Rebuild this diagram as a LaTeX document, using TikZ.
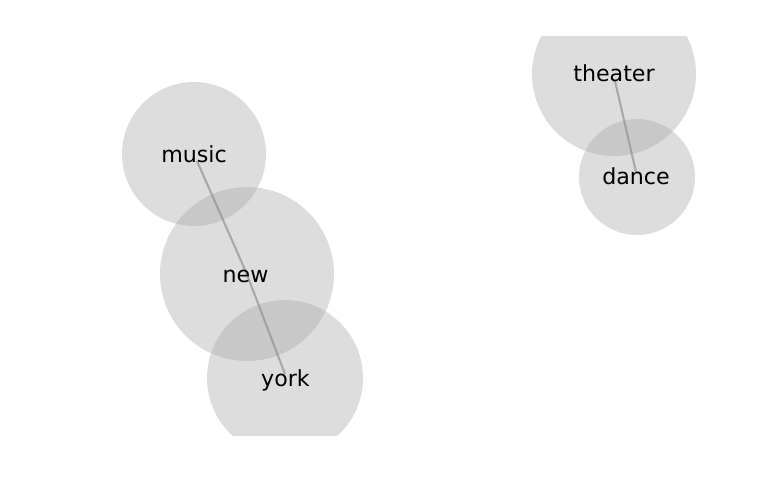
\documentclass[tikz,border=0pt]{standalone}
\usepackage{fontspec}
\setmainfont{DejaVu Sans}

\begin{document}
\begin{tikzpicture}[x=0.01in, y=-0.01in,
    bubble/.style={fill=black!35, fill opacity=0.38},
    word/.style={font=\fontsize{16}{19}\selectfont, inner sep=0pt, anchor=base},
    link/.style={draw=black!45, line width=1.5pt, opacity=0.65}]
    \useasboundingbox (0,0) rectangle (768,500);
    \begin{scope}
        \clip (0,36) rectangle (768,435);
        % Bubbles
        \foreach \x/\y/\r in {194/154/72, 247/274/87, 285/378/78, 614/74/82, 637/177/58} {
            \fill[bubble] (\x,\y) circle[radius=\r];
        }
        % Link ends
        \coordinate (music-pt) at (197,161);
        \coordinate (new-pt) at (246,272);
        \coordinate (york-pt) at (285,374);
        \coordinate (theater-pt) at (615,81);
        \coordinate (dance-pt) at (636,172);
        % Links
        \draw[link] (music-pt) -- (new-pt);
        \draw[link] (new-pt) -- (york-pt);
        \draw[link] (theater-pt) -- (dance-pt);
    \end{scope}
    % Words
    \node[word] (music) at (194,162) {music};
    \node[word] (new) at (245.5,282) {new};
    \node[word] (york) at (285.5,386) {york};
    \node[word] (theater) at (614,81) {theater};
    \node[word] (dance) at (636,184) {dance};
\end{tikzpicture}
\end{document}
